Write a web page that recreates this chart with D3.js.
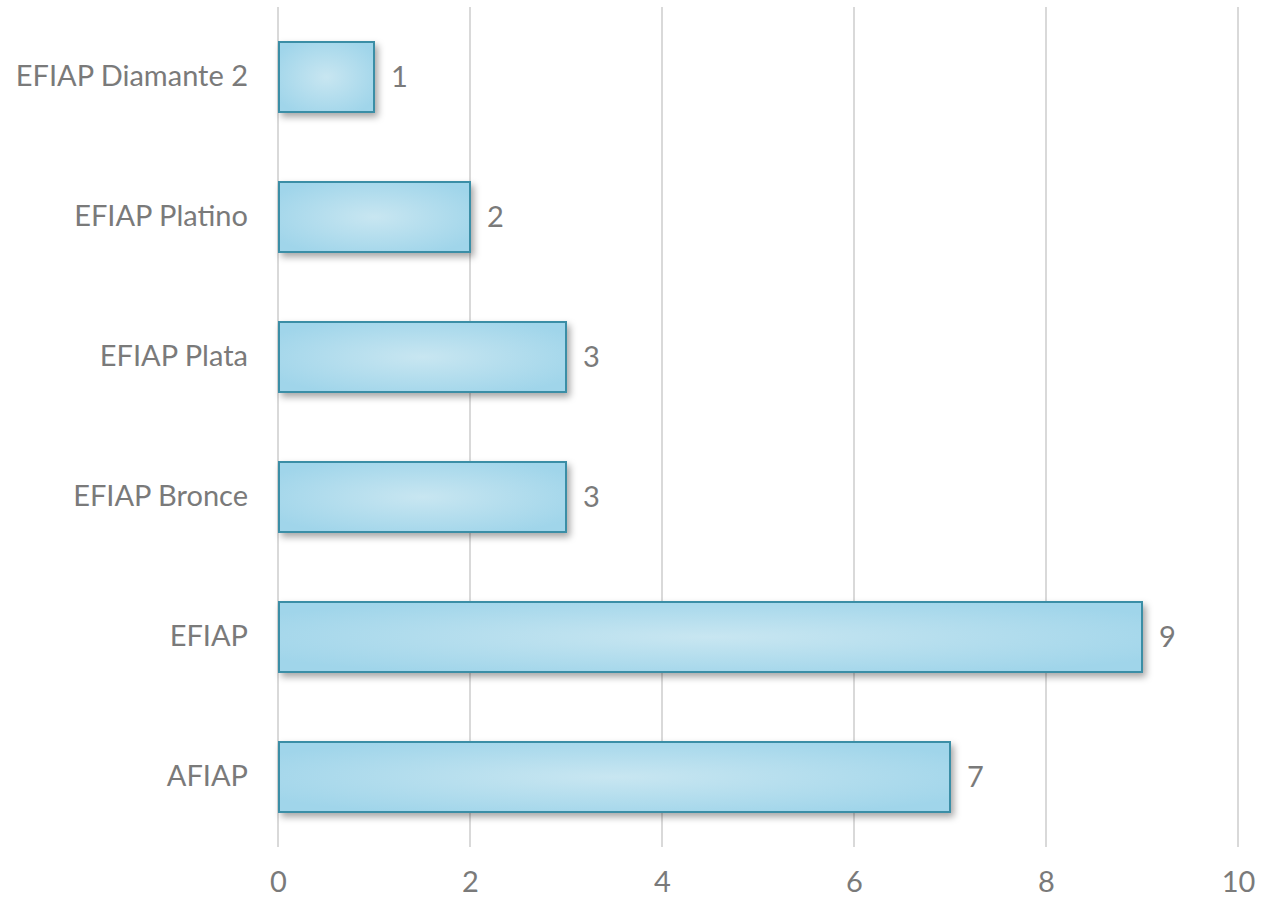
<!DOCTYPE html>
<html><head><meta charset="utf-8">
<script src="https://cdn.jsdelivr.net/npm/d3@7"></script>
<style>
html,body{margin:0;padding:0;background:#fff;}
svg text{font-family:"Lato","Open Sans",sans-serif;fill:#7a7a7a;}
</style></head>
<body>
<svg id="chart" width="1263" height="900"></svg>
<script>
const categories = ["EFIAP Diamante 2","EFIAP Platino","EFIAP Plata","EFIAP Bronce","EFIAP","AFIAP"];
const values = [1,2,3,3,9,7];
const xTicks = [0,2,4,6,8,10];

const svg = d3.select("#chart");
const defs = svg.append("defs");
const grad = defs.append("radialGradient").attr("id","barGrad")
  .attr("cx","50%").attr("cy","50%").attr("r","60%");
grad.append("stop").attr("offset","0%").attr("stop-color","#c8e6f1");
grad.append("stop").attr("offset","100%").attr("stop-color","#a0d5ea");
const filt = defs.append("filter").attr("id","shadow").attr("x","-10%").attr("y","-20%").attr("width","130%").attr("height","160%");
filt.append("feDropShadow").attr("dx",3).attr("dy",4).attr("stdDeviation",3.5).attr("flood-color","#000").attr("flood-opacity",0.35);

const x = d3.scaleLinear().domain([0,10]).range([278,1238]);
const y = d3.scaleBand().domain(categories).range([7,847]).paddingInner(0.5).paddingOuter(0.25);

// gridlines
svg.append("g").selectAll("line").data(xTicks).join("line")
  .attr("x1",d=>x(d)).attr("x2",d=>x(d)).attr("y1",7).attr("y2",847)
  .attr("stroke","#d9d9d9").attr("stroke-width",2);

// x axis labels
const xAxis = svg.append("g").attr("transform","translate(0,847)")
  .call(d3.axisBottom(x).tickValues(xTicks).tickSize(0).tickPadding(24));
xAxis.select(".domain").remove();
xAxis.selectAll("text").attr("font-size",29).attr("dy","0.71em")
  .style("font-family","Lato, 'Open Sans', sans-serif").attr("fill","#7a7a7a");

// y axis labels
const yAxis = svg.append("g").attr("transform","translate(278,0)")
  .call(d3.axisLeft(y).tickSize(0).tickPadding(30));
yAxis.select(".domain").remove();
yAxis.selectAll("text").attr("font-size",29)
  .style("font-family","Lato, 'Open Sans', sans-serif").attr("fill","#7a7a7a");

// bars
svg.append("g").selectAll("rect").data(categories).join("rect")
  .attr("x",x(0)+1).attr("y",d=>y(d))
  .attr("width",(d,i)=>x(values[i])-x(0)-1).attr("height",y.bandwidth())
  .attr("fill","url(#barGrad)").attr("stroke","#3a8ea6").attr("stroke-width",2)
  .attr("filter","url(#shadow)");

// value labels
svg.append("g").selectAll("text").data(categories).join("text")
  .attr("x",(d,i)=>x(values[i])+17).attr("y",d=>y(d)+y.bandwidth()/2)
  .attr("dy","0.35em").attr("font-size",29).text((d,i)=>values[i]);
</script>
</body></html>
